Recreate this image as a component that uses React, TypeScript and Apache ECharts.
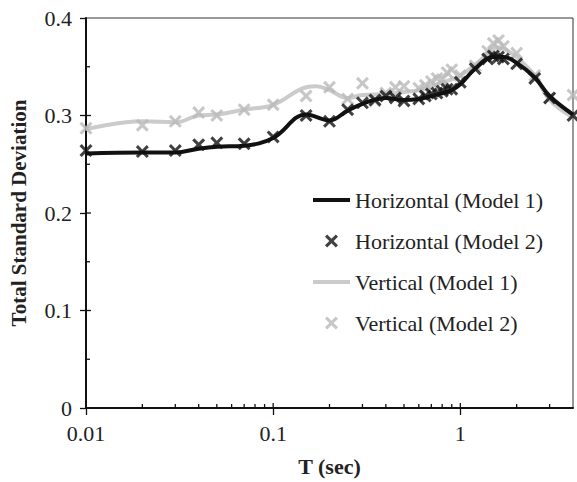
import React, { useEffect, useRef } from "react";
import * as echarts from "echarts";

// Horizontal component, model 1 (continuous curve)
const hModel1T = [0.01, 0.02, 0.03, 0.04, 0.05, 0.07, 0.1, 0.15, 0.2, 0.25, 0.3, 0.4, 0.5, 0.6, 0.7, 0.8, 0.9, 1.0, 1.2, 1.5, 1.7, 2.0, 2.5, 3.0, 4.0];
const hModel1Sd = [0.261, 0.262, 0.262, 0.266, 0.268, 0.269, 0.277, 0.301, 0.295, 0.305, 0.312, 0.318, 0.316, 0.317, 0.32, 0.323, 0.326, 0.332, 0.348, 0.36, 0.36, 0.354, 0.339, 0.32, 0.301];

// Horizontal component, model 2 (markers)
const hModel2T = [0.01, 0.02, 0.03, 0.04, 0.05, 0.07, 0.1, 0.15, 0.2, 0.25, 0.3, 0.35, 0.4, 0.45, 0.5, 0.6, 0.65, 0.7, 0.75, 0.8, 0.85, 0.9, 1.0, 1.2, 1.4, 1.5, 1.6, 1.7, 2.0, 2.5, 3.0, 4.0];
const hModel2Sd = [0.264, 0.263, 0.264, 0.27, 0.272, 0.271, 0.278, 0.3, 0.294, 0.306, 0.313, 0.316, 0.32, 0.318, 0.315, 0.317, 0.32, 0.322, 0.323, 0.325, 0.327, 0.327, 0.334, 0.348, 0.358, 0.361, 0.36, 0.358, 0.353, 0.338, 0.318, 0.3];

// Vertical component, model 1 (continuous curve)
const vModel1T = [0.01, 0.02, 0.03, 0.04, 0.05, 0.07, 0.1, 0.15, 0.17, 0.2, 0.25, 0.3, 0.4, 0.5, 0.6, 0.7, 0.8, 0.9, 1.0, 1.2, 1.5, 1.6, 1.8, 2.0, 2.5, 3.0, 4.0];
const vModel1Sd = [0.286, 0.294, 0.293, 0.3, 0.301, 0.306, 0.311, 0.329, 0.33, 0.326, 0.318, 0.321, 0.322, 0.324, 0.326, 0.33, 0.334, 0.337, 0.341, 0.352, 0.368, 0.37, 0.366, 0.36, 0.341, 0.316, 0.298];

// Vertical component, model 2 (markers)
const vModel2T = [0.01, 0.02, 0.03, 0.04, 0.05, 0.07, 0.1, 0.15, 0.2, 0.25, 0.3, 0.35, 0.4, 0.45, 0.5, 0.6, 0.65, 0.7, 0.75, 0.8, 0.85, 0.9, 1.0, 1.2, 1.4, 1.5, 1.6, 1.7, 2.0, 2.5, 3.0, 4.0];
const vModel2Sd = [0.287, 0.29, 0.294, 0.303, 0.3, 0.306, 0.311, 0.32, 0.329, 0.317, 0.333, 0.315, 0.323, 0.329, 0.33, 0.328, 0.331, 0.335, 0.338, 0.337, 0.344, 0.347, 0.341, 0.351, 0.366, 0.374, 0.377, 0.371, 0.364, 0.341, 0.318, 0.321];

// Axis tick positions
const xMajorTicks = [0.01, 0.1, 1];
const xMinorTicks = [0.02, 0.03, 0.04, 0.05, 0.06, 0.07, 0.08, 0.09, 0.2, 0.3, 0.4, 0.5, 0.6, 0.7, 0.8, 0.9, 2, 3];
const yMajorTicks = [0.1, 0.2, 0.3];
const yMinorTicks = [0.05, 0.15, 0.25, 0.35];

const FONT = "'Liberation Serif', 'Times New Roman', serif";
const CROSS = "path://M0,2L2,0L6,4L10,0L12,2L8,6L12,10L10,12L6,8L2,12L0,10L4,6Z";
const BAR = "path://M0,0H37V4H0Z";

const zip = (xs: number[], ys: number[]) => xs.map((x, i) => [x, ys[i]]);

export default function App() {
  const ref = useRef<HTMLDivElement>(null);

  useEffect(() => {
    if (!ref.current) return;
    const chart = echarts.init(ref.current, undefined, { renderer: "svg" });

    // inward-pointing tick marks along the bottom (x) and left (y) axes
    const tickSeries = (data: number[][], dir: "x" | "y", len: number) => ({
      type: "custom",
      silent: true,
      clip: false,
      z: 5,
      data,
      renderItem: (_params: any, api: any) => {
        const p = api.coord([api.value(0), api.value(1)]);
        return {
          type: "line",
          shape: dir === "x"
            ? { x1: p[0], y1: p[1], x2: p[0], y2: p[1] - len }
            : { x1: p[0], y1: p[1], x2: p[0] + len, y2: p[1] },
          style: { stroke: "#111", lineWidth: 1.3 },
        };
      },
    });

    chart.setOption({
      animation: false,
      backgroundColor: "#fff",
      grid: {
        left: 82,
        right: 4,
        top: 18,
        bottom: 70,
        show: true,
        borderColor: "#333",
        borderWidth: 1,
      },
      legend: {
        data: [
          { name: "Horizontal (Model 1)", icon: BAR },
          { name: "Horizontal (Model 2)", icon: CROSS },
          { name: "Vertical (Model 1)", icon: BAR },
          { name: "Vertical (Model 2)", icon: CROSS },
        ],
        orient: "vertical",
        left: 308,
        top: 184,
        itemWidth: 37,
        itemHeight: 13,
        itemGap: 19,
        textStyle: { fontFamily: FONT, fontSize: 22, color: "#222" },
      },
      xAxis: {
        type: "log",
        logBase: 10,
        min: 0.01,
        max: 4,
        interval: 1,
        name: "T (sec)",
        nameLocation: "middle",
        nameGap: 47,
        nameTextStyle: { fontFamily: FONT, fontSize: 22, fontWeight: "bold", color: "#222" },
        axisLine: { lineStyle: { color: "#111", width: 2 } },
        axisTick: { show: true, inside: false, length: 7, lineStyle: { color: "#111", width: 1.3 } },
        axisLabel: {
          fontFamily: FONT,
          fontSize: 22,
          color: "#222",
          margin: 14,
          showMaxLabel: false,
          formatter: (v: number) => String(Number(v.toPrecision(3))),
        },
        splitLine: { show: false },
      },
      yAxis: {
        type: "value",
        min: 0,
        max: 0.4,
        interval: 0.1,
        name: "Total Standard Deviation",
        nameLocation: "middle",
        nameGap: 57,
        nameTextStyle: { fontFamily: FONT, fontSize: 21, fontWeight: "bold", color: "#222" },
        axisLine: { show: true, lineStyle: { color: "#111", width: 2 } },
        axisTick: { show: true, inside: false, length: 6, lineStyle: { color: "#111", width: 1.3 } },
        axisLabel: {
          fontFamily: FONT,
          fontSize: 22,
          color: "#222",
          margin: 14,
          formatter: (v: number) => String(Number(v.toFixed(2))),
        },
        splitLine: { show: false },
      },
      series: [
        {
          name: "Vertical (Model 1)",
          type: "line",
          data: zip(vModel1T, vModel1Sd),
          smooth: 0.4,
          symbol: "none",
          lineStyle: { color: "#cbcbcb", width: 4 },
          itemStyle: { color: "#cbcbcb" },
          z: 2,
        },
        {
          name: "Vertical (Model 2)",
          type: "scatter",
          data: zip(vModel2T, vModel2Sd),
          symbol: CROSS,
          symbolSize: 13,
          itemStyle: { color: "#b9b9b9" },
          z: 3,
        },
        {
          name: "Horizontal (Model 1)",
          type: "line",
          data: zip(hModel1T, hModel1Sd),
          smooth: 0.4,
          symbol: "none",
          lineStyle: { color: "#111", width: 4 },
          itemStyle: { color: "#111" },
          z: 4,
        },
        {
          name: "Horizontal (Model 2)",
          type: "scatter",
          data: zip(hModel2T, hModel2Sd),
          symbol: CROSS,
          symbolSize: 13,
          itemStyle: { color: "#111" },
          z: 5,
        },
        tickSeries(xMajorTicks.map((t) => [t, 0]), "x", 5),
        tickSeries(xMinorTicks.map((t) => [t, 0]), "x", 4),
        tickSeries(yMajorTicks.map((v) => [0.01, v]), "y", 5),
        tickSeries(yMinorTicks.map((v) => [0.01, v]), "y", 4),
      ],
    });

    return () => chart.dispose();
  }, []);

  return (
    <div
      ref={ref}
      style={{ position: "absolute", left: 0, top: 0, width: 577, height: 482 }}
    />
  );
}
